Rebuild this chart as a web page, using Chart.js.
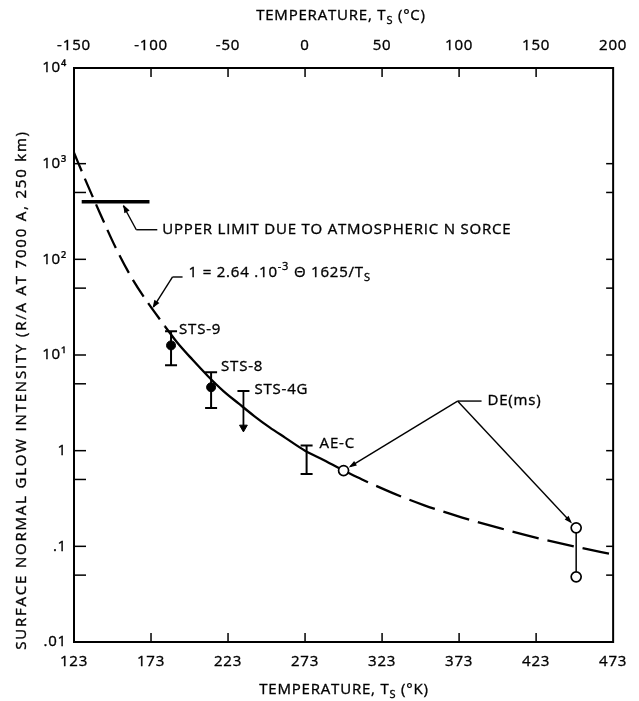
<!DOCTYPE html>
<html><head><meta charset="utf-8">
<script src="https://cdn.jsdelivr.net/npm/chart.js@4.4.1/dist/chart.umd.min.js"></script>
<style>html,body{margin:0;padding:0;background:#fff;overflow:hidden}canvas{display:block}</style>
</head><body>
<canvas id="c" width="639" height="701"></canvas>
<script>
// ---- tick values / labels ----
const kelvinTicks = [123,173,223,273,323,373,423,473];
const celsiusTicks = [-150,-100,-50,0,50,100,150,200];
const yMajorTicks = [0.01,0.1,1,10,100,1000,10000];
const yMajorLabels = ['.01','.1','1','10\u00B9','10\u00B2','10\u00B3','10\u2074'];
const yMinorTicks = [0.05,0.5,5,50,500];

// ---- fitted curve ----
const fitUpperT = [123,130,140,150,160,170,182];
const fitUpperI = [1300,700,300,133,66,37,20];
const fitSolidT = [182,190,200,210,220,230,240,250,260,273,285,298];
const fitSolidI = [20,13.5,8.9,6.0,4.2,3.1,2.3,1.75,1.37,1.0,0.80,0.62];
const fitLowerT = [298,310,330,350,375,400,425,450,473];
const fitLowerI = [0.62,0.50,0.36,0.27,0.20,0.154,0.121,0.098,0.082];

// ---- measurements ----
const stsNames = ['STS-9','STS-8'];
const stsT = [186,212];
const stsI = [12.6,4.6];
const stsHigh = [17.7,6.6];
const stsLow = [7.8,2.8];
const sts4gT = [233,233];
const sts4gI = [4.2,1.75];
const aecT = [274,274];
const aecI = [0.57,1.13];
const deT = [298,449,449];
const deI = [0.62,0.156,0.048];
const limitT = [128,172];
const limitI = [400,400];

const K = '#000';
const FAM = "'Open Sans', 'DejaVu Sans', sans-serif";
const SPACING = '0.8px';
const pts = (xs, ys) => xs.map((x,i)=>({x:x, y:ys[i]}));

const errStyle = {showLine:true, borderColor:K, borderWidth:2, pointStyle:'line', pointRadius:6, pointBorderColor:K, pointBorderWidth:2};
const curveStyle = {showLine:true, borderColor:K, borderWidth:2.3, pointRadius:0, cubicInterpolationMode:'monotone', fill:false};

const datasets = [
  {data: pts([deT[0]],[deI[0]]), showLine:false, pointStyle:'circle', pointRadius:5, pointBackgroundColor:'#fff', pointBorderColor:K, pointBorderWidth:1.7},
  {data: pts(deT.slice(1), deI.slice(1)), showLine:true, borderColor:K, borderWidth:1.5, pointStyle:'circle', pointRadius:5, pointBackgroundColor:'#fff', pointBorderColor:K, pointBorderWidth:1.7},
  {data: pts(stsT, stsI), showLine:false, pointStyle:'circle', pointRadius:4.5, pointBackgroundColor:K, pointBorderColor:K, pointBorderWidth:1},
  ...stsT.map((t,i)=>Object.assign({data: pts([t,t],[stsLow[i],stsHigh[i]])}, errStyle)),
  Object.assign({data: pts(aecT, aecI)}, errStyle),
  {data: pts(sts4gT, sts4gI), showLine:true, borderColor:K, borderWidth:1.8, pointStyle:['line','triangle'], pointRotation:[0,180], pointRadius:[6,4.5], pointBackgroundColor:K, pointBorderColor:K, pointBorderWidth:[2,1]},
  {data: pts(limitT, limitI), showLine:true, borderColor:K, borderWidth:3.5, pointRadius:0},
  Object.assign({data: pts(fitSolidT, fitSolidI)}, curveStyle),
  Object.assign({data: pts(fitUpperT, fitUpperI), borderDash:[20,8]}, curveStyle),
  Object.assign({data: pts(fitLowerT, fitLowerI), borderDash:[27,9]}, curveStyle)
];

function txt(ctx, s, x, y) { ctx.fillText(s, x, y); ctx.strokeText(s, x, y); }
function rich(ctx, parts, x, y, align, size) {
  const sm = Math.round(size*0.72);
  let w = 0;
  parts.forEach(p=>{ ctx.font = (p.sub||p.sup? sm : size) + 'px ' + FAM; p.w = ctx.measureText(p.t).width; w += p.w; });
  let cx = align==='center' ? x - w/2 : x;
  ctx.textBaseline = 'middle'; ctx.textAlign = 'left';
  parts.forEach(p=>{
    ctx.font = (p.sub||p.sup? sm : size) + 'px ' + FAM;
    const dy = p.sub ? size*0.3 : (p.sup ? -size*0.38 : 0);
    txt(ctx, p.t, cx, y+dy); cx += p.w;
  });
}
function seg(ctx, pts) { ctx.beginPath(); ctx.moveTo(pts[0][0],pts[0][1]); for (let i=1;i<pts.length;i++) ctx.lineTo(pts[i][0],pts[i][1]); ctx.stroke(); }
function head(ctx, x0,y0,x1,y1, len, w) {
  const a = Math.atan2(y1-y0, x1-x0);
  ctx.beginPath(); ctx.moveTo(x1,y1);
  ctx.lineTo(x1-len*Math.cos(a)+w*Math.sin(a), y1-len*Math.sin(a)-w*Math.cos(a));
  ctx.lineTo(x1-len*Math.cos(a)-w*Math.sin(a), y1-len*Math.sin(a)+w*Math.cos(a));
  ctx.closePath(); ctx.fill();
}

const decor = {
  id: 'decor',
  beforeDraw(chart) { chart.ctx.letterSpacing = SPACING; },
  afterDraw(chart) {
    const {ctx, chartArea:a, scales} = chart;
    const X = v=>scales.x.getPixelForValue(v), Y = v=>scales.y.getPixelForValue(v), C = v=>scales.x2.getPixelForValue(v);
    ctx.save();
    ctx.letterSpacing = SPACING;
    ctx.strokeStyle = K; ctx.fillStyle = K; ctx.lineCap = 'butt';
    // frame
    ctx.lineWidth = 2; ctx.strokeRect(a.left, a.top, a.right-a.left, a.bottom-a.top);
    // inward ticks
    ctx.lineWidth = 1.5;
    kelvinTicks.slice(1,-1).forEach(v=>seg(ctx, [[X(v),a.bottom],[X(v),a.bottom-9]]));
    celsiusTicks.slice(1,-1).forEach(v=>seg(ctx, [[C(v),a.top],[C(v),a.top+9]]));
    yMajorTicks.concat(yMinorTicks).forEach(v=>{
      const y = Y(v);
      if (y <= a.top+1 || y >= a.bottom-1) return;
      seg(ctx, [[a.left,y],[a.left+12,y]]);
      seg(ctx, [[a.right,y],[a.right-7,y]]);
    });
    // leaders
    ctx.lineWidth = 1.4;
    let tx = X(155), ty = Y(400)+3;
    seg(ctx, [[tx+13,ty+25],[tx,ty+1]]); head(ctx, tx+13,ty+25, tx,ty, 8, 3);
    seg(ctx, [[tx+13,ty+25],[tx+34,ty+25]]);
    const lx = tx+39, ly = ty+25;
    const fx = X(174), fy = Y(31);
    seg(ctx, [[fx+20,fy-31],[fx+1,fy-1]]); head(ctx, fx+20,fy-31, fx,fy, 8, 3);
    seg(ctx, [[fx+20,fy-31],[fx+30,fy-31]]);
    const jx = X(372), jy = Y(3.3);
    seg(ctx, [[jx,jy],[jx+24,jy]]);
    [[deT[0],deI[0]],[deT[1],deI[1]]].forEach(([t,v])=>{
      const cx = X(t), cy = Y(v);
      const d = Math.hypot(jx-cx, jy-cy), ux = (jx-cx)/d, uy = (jy-cy)/d;
      const px = cx+ux*6, py = cy+uy*6;
      seg(ctx, [[jx,jy],[px+ux*2,py+uy*2]]); head(ctx, jx,jy, px,py, 8, 2.6);
    });
    // texts
    const fs = 15;
    ctx.lineWidth = 0.35;
    ctx.font = fs+'px '+FAM; ctx.textBaseline='middle'; ctx.textAlign='left';
    txt(ctx, stsNames[0], X(stsT[0])+8, Y(stsHigh[0])-2);
    txt(ctx, stsNames[1], X(stsT[1])+10, Y(stsHigh[1])-6);
    txt(ctx, 'STS-4G', X(sts4gT[0])+11, Y(sts4gI[0])-1);
    txt(ctx, 'AE-C', X(aecT[0])+13, Y(aecI[1])-2);
    txt(ctx, 'UPPER LIMIT DUE TO ATMOSPHERIC N SORCE', lx, ly);
    ctx.font = fs+'px '+FAM; txt(ctx, 'DE(ms)', jx+30, jy);
    rich(ctx, [{t:'1 = 2.64 .10'},{t:'-3',sup:true},{t:' \u0398 1625/T'},{t:'S',sub:true}], fx+36, fy-35, 'left', fs);
    // axis titles
    rich(ctx, [{t:'TEMPERATURE, T'},{t:'S',sub:true},{t:' (\u00B0C)'}], 341, 16, 'center', fs);
    rich(ctx, [{t:'TEMPERATURE, T'},{t:'S',sub:true},{t:' (\u00B0K)'}], 344, 690, 'center', fs);
    ctx.save(); ctx.translate(22, 390); ctx.rotate(-Math.PI/2);
    ctx.letterSpacing = '1.8px';
    rich(ctx, [{t:'SURFACE NORMAL GLOW INTENSITY (R/A AT 7000 A, 250 km)'}], 0, 0, 'center', fs);
    ctx.restore();
    ctx.restore();
  }
};

const tickFont = {family: FAM, size: 15};
const tickCommon = {font:tickFont, color:K, textStrokeColor:K, textStrokeWidth:0.35, autoSkip:false, maxRotation:0};
new Chart(document.getElementById('c'), {
  type: 'scatter',
  data: {datasets},
  options: {
    responsive: false, devicePixelRatio: 1, animation: false,
    layout: {padding: {left: 0, right: 23, top: 0, bottom: 0}},
    plugins: {legend: {display: false}, tooltip: {enabled: false}},
    scales: {
      x: {type:'linear', position:'bottom', min:123, max:473,
          afterBuildTicks: s=>{ s.ticks = kelvinTicks.map(v=>({value:v})); },
          afterFit: s=>{ s.height = 59; },
          grid: {display:false, drawTicks:false}, border: {display:false},
          ticks: Object.assign({padding:11, callback: v=>String(v)}, tickCommon)},
      x2: {type:'linear', axis:'x', position:'top', min:-150, max:200,
          afterBuildTicks: s=>{ s.ticks = celsiusTicks.map(v=>({value:v})); },
          afterFit: s=>{ s.height = 68; },
          grid: {display:false, drawTicks:false}, border: {display:false},
          ticks: Object.assign({padding:13, callback: v=>String(v)}, tickCommon)},
      y: {type:'logarithmic', position:'left', min:0.01, max:10000,
          afterBuildTicks: s=>{ s.ticks = yMajorTicks.map(v=>({value:v})); },
          afterFit: s=>{ s.width = 74; },
          grid: {display:false, drawTicks:false}, border: {display:false},
          ticks: Object.assign({padding:7, callback: v=>{ const i = yMajorTicks.indexOf(v); return i>=0 ? yMajorLabels[i] : ''; }}, tickCommon)}
    }
  },
  plugins: [decor]
});
</script>
</body></html>
